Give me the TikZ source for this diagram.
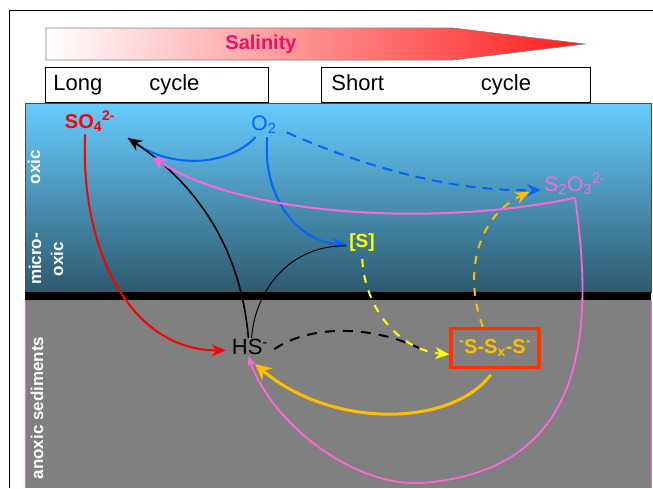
\documentclass[tikz,border=0pt]{standalone}
\usepackage{fontspec}
\setmainfont{Liberation Sans}
\usetikzlibrary{arrows.meta}
\definecolor{SaltClr}{rgb}{0.95,0.05,0.4}
\definecolor{SulfateClr}{rgb}{1,0,0}
\definecolor{OxyClr}{rgb}{0,0.4,1}
\definecolor{ThioClr}{rgb}{1,0.4,0.85}
\definecolor{SulfurClr}{rgb}{1,1,0}
\definecolor{PolyClr}{rgb}{1,0.75,0}
\definecolor{BoxClr}{rgb}{1,0.2,0}
\definecolor{TopClr}{rgb}{0.4,0.8,1}
\definecolor{BotClr}{rgb}{0.18,0.35,0.43}
\definecolor{SedClr}{rgb}{0.5,0.5,0.5}

\begin{document}
\begin{tikzpicture}[x=1pt,y=-1pt,
  spec/.style={inner sep=3pt,font=\fontsize{21}{24}\selectfont},
  bspec/.style={inner sep=3pt,font=\bfseries\fontsize{20}{24}\selectfont},
  zone/.style={rotate=90,text=white,align=center,inner sep=0pt,font=\bfseries\fontsize{17}{22}\selectfont},
  cyc/.style={draw,line width=0.8pt,minimum height=35pt,inner ysep=0pt,anchor=north west,align=left,font=\fontsize{22}{26}\selectfont},
  flux/.style={line width=2pt,-{Stealth[length=14pt,width=12pt]}},
  slow/.style={flux,dash pattern=on 10pt off 7pt}]
\useasboundingbox (0,0) rectangle (653,488);
\draw[line width=0.6pt] (9,488) -- (9,10) -- (653,10);

\path[draw=gray,line width=0.6pt,left color=white,right color=red!90!white]
  (46,28) -- (453,28) -- (585,44) -- (453,60) -- (46,60) -- cycle;
\node[font=\bfseries\fontsize{20}{24}\selectfont,text=SaltClr] (salt) at (261,44) {Salinity};
\node[cyc,text width=207pt,inner xsep=8pt] (long) at (45,67) {Long\hspace{47pt}cycle};
\node[cyc,text width=249pt,inner xsep=10pt] (short) at (321,67) {Short\hspace{97pt}cycle};

\shade[top color=TopClr,bottom color=BotClr] (25,103) rectangle (651,292);
\draw[black!70,line width=0.8pt] (25,103) rectangle (651,292);
\fill[black] (25,292) rectangle (651,300);
\fill[SedClr] (25,300) rectangle (651,488);
\draw[ThioClr,line width=0.8pt] (25,300) -- (25,488) (651,300) -- (651,488);

\node[zone] (oxic) at (34,167) {oxic};
\node[zone] (micro) at (46,259) {micro-\\oxic};
\node[zone] (anoxic) at (37,408) {anoxic sediments};

\node[bspec,text=SulfateClr] (sulf) at (90,121) {SO\textsubscript{4}\textsuperscript{2-}};
\node[spec,text=OxyClr] (oxy) at (264,125) {O\textsubscript{2}};
\node[spec,text=ThioClr] (thio) at (575,184) {S\textsubscript{2}O\textsubscript{3}\textsuperscript{2-}};
\node[bspec,text=SulfurClr,font=\bfseries\fontsize{19}{22}\selectfont] (sulfur) at (362,243) {[S]};
\node[spec,inner xsep=6pt,inner ysep=1pt,font=\fontsize{22}{26}\selectfont] (hs) at (250,347) {HS\textsuperscript{-}};
\node[bspec,text=PolyClr,draw=BoxClr,line width=3.5pt,minimum width=88pt,minimum height=39pt] (poly) at (495,348) {\textsuperscript{-}S-S\textsubscript{x}-S\textsuperscript{-}};

\coordinate (toSO) at (128,138);
\coordinate (toSOb) at (152,157);
\coordinate (join) at (419,348);

\draw[OxyClr,line width=2pt] (oxy.235) .. controls (230,165) and (170,172) .. (toSO);
\draw[flux,line width=1.6pt] (hs.100) .. controls (240,240) and (190,180) .. (toSO);
\draw[flux,SulfateClr] (sulf.250) .. controls (80,250) and (130,350) .. (hs.188);
\draw[flux,OxyClr] (oxy.285) .. controls (262,200) and (300,242) .. (sulfur.185);
\draw[slow,OxyClr,shorten <=8pt] (oxy.-15) .. controls (360,165) and (450,192) .. (thio.190);
\draw[flux,ThioClr] (thio.south) .. controls (450,225) and (250,220) .. (toSOb);
\draw[flux,ThioClr,line width=1.8pt,-{Stealth[length=10pt,width=8pt]}] (thio.south) .. controls (594,330) and (588,472) .. (420,483)
  .. controls (350,486) and (270,420) .. (hs.-100);
\draw[line width=1pt] (sulfur.190) .. controls (290,245) and (255,290) .. (hs.80);
\draw[line width=2pt,dash pattern=on 10pt off 8pt] (hs.-5) .. controls (310,325) and (370,325) .. (join);
\draw[slow,SulfurClr,dash pattern=on 8pt off 8pt,shorten <=4pt] (sulfur.south) .. controls (365,310) and (400,350) .. (poly.188);
\draw[slow,PolyClr,dash pattern=on 8pt off 8pt] (poly.120) .. controls (462,270) and (480,215) .. ([xshift=-12pt,yshift=-8pt]thio.west);
\draw[flux,PolyClr,line width=3pt,shorten <=7pt,-{Stealth[length=16pt,width=16pt]}] (poly.south) .. controls (450,428) and (330,428) .. ([yshift=-8pt]hs.-60);

\end{tikzpicture}
\end{document}
